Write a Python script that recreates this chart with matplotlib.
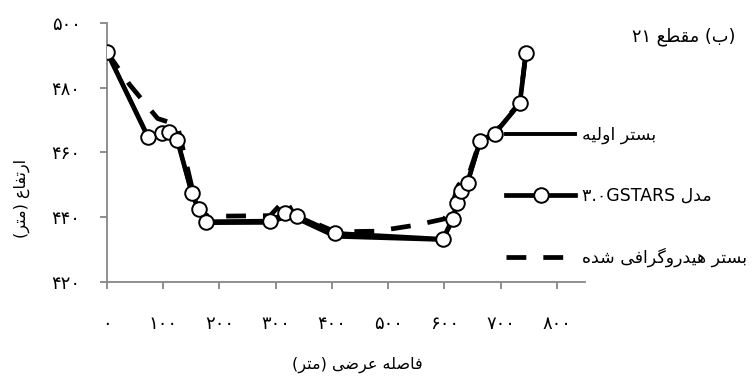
import matplotlib as mpl
mpl.use('agg')
import matplotlib.pyplot as plt

# distance (m) and bed elevation (m)
gstars_x = [0, 73, 97, 111, 125, 151, 163, 176, 290, 317, 338, 406,
            597, 615, 622, 630, 641, 663, 689, 734, 745]
gstars_y = [491, 464.7, 466, 466.4, 463.8, 447.4, 442.7, 438.6, 438.8, 441.4, 440.3, 435,
            433.2, 439.6, 444.3, 448, 450.7, 463.5, 465.7, 475.2, 490.8]

initial_x = [0, 73, 97, 111, 125, 151, 163, 176, 290, 317, 338, 406,
             597, 615, 622, 630, 641, 663, 689, 734, 745]
initial_y = [491, 465, 465.5, 466, 464, 447, 442, 438.2, 438.3, 440, 439.5, 434,
             433, 439, 444, 447.5, 450.5, 463, 466, 475, 491]

hydro_x = [0, 40, 90, 125, 150, 165, 180, 290, 317, 332, 406, 480,
           550, 600, 612, 625, 641, 663, 689, 734, 745]
hydro_y = [491, 481, 470.5, 468.5, 450, 442, 440.3, 440.5, 445.5, 441, 435.5, 435.7,
           437.6, 439.5, 443, 450, 452, 463.5, 466, 475.5, 491]

x_ticks = [0, 100, 200, 300, 400, 500, 600, 700, 800]
y_ticks = [420, 440, 460, 480, 500]

# --- minimal persian shaping (matplotlib draws glyphs left to right, no joining)
FORMS = {
    'ا': (0xFE8D, 0xFE8E, None, None),
    'ب': (0xFE8F, 0xFE90, 0xFE91, 0xFE92),
    'ت': (0xFE95, 0xFE96, 0xFE97, 0xFE98),
    'د': (0xFEA9, 0xFEAA, None, None),
    'ر': (0xFEAD, 0xFEAE, None, None),
    'س': (0xFEB1, 0xFEB2, 0xFEB3, 0xFEB4),
    'ش': (0xFEB5, 0xFEB6, 0xFEB7, 0xFEB8),
    'ص': (0xFEB9, 0xFEBA, 0xFEBB, 0xFEBC),
    'ض': (0xFEBD, 0xFEBE, 0xFEBF, 0xFEC0),
    'ط': (0xFEC1, 0xFEC2, 0xFEC3, 0xFEC4),
    'ع': (0xFEC9, 0xFECA, 0xFECB, 0xFECC),
    'ف': (0xFED1, 0xFED2, 0xFED3, 0xFED4),
    'ق': (0xFED5, 0xFED6, 0xFED7, 0xFED8),
    'ل': (0xFEDD, 0xFEDE, 0xFEDF, 0xFEE0),
    'م': (0xFEE1, 0xFEE2, 0xFEE3, 0xFEE4),
    'ه': (0xFEE9, 0xFEEA, 0xFEEB, 0xFEEC),
    'و': (0xFEED, 0xFEEE, None, None),
    'ی': (0xFEEF, 0xFEF0, 0xFEF3, 0xFEF4),
    'گ': (0xFB92, 0xFB93, 0xFB94, 0xFB95),
}


def shape_word(w):
    out = []
    for i, c in enumerate(w):
        if c not in FORMS:
            out.append(c)
            continue
        f = FORMS[c]
        prev = w[i - 1] if i > 0 else ''
        nxt = w[i + 1] if i + 1 < len(w) else ''
        jp = prev in FORMS and FORMS[prev][2] is not None
        jn = nxt in FORMS and f[2] is not None
        if jp and jn:
            g = f[3]
        elif jp:
            g = f[1]
        elif jn:
            g = f[2]
        else:
            g = f[0]
        out.append(chr(g))
    s = ''.join(reversed(out))
    return s.translate(str.maketrans('()', ')('))


def fa(text):
    words = []
    for t in text.split(' '):
        if any(c in FORMS for c in t):
            words.append(shape_word(t))
        else:
            words.append(t)
    return ' '.join(reversed(words))


def fa_num(v):
    return str(int(v)).translate(str.maketrans('0123456789', '۰۱۲۳۴۵۶۷۸۹'))


plt.rcParams['font.family'] = ['DejaVu Sans']

fig = plt.figure(figsize=(7.52, 3.85), dpi=100)
ax = fig.add_axes([0.1423, 0.2675, 0.6357, 0.6728])

ax.plot(initial_x, initial_y, color='black', lw=2.8, label=fa('بستر اولیه'), zorder=2)
ax.plot(gstars_x, gstars_y, color='black', lw=3.4, marker='o', markersize=10.5,
        markerfacecolor='white', markeredgecolor='black', markeredgewidth=1.4,
        label='۳.۰GSTARS ' + fa('مدل'), zorder=4)
ax.plot(hydro_x, hydro_y, color='black', lw=3.4, dashes=(4.2, 3.6),
        label=fa('بستر هیدروگرافی شده'), zorder=3)

ax.set_xlim(0, 850)
ax.set_ylim(420, 500)
ax.set_xticks(x_ticks)
ax.set_xticklabels([fa_num(v) for v in x_ticks])
ax.set_yticks(y_ticks)
ax.set_yticklabels([fa_num(v) for v in y_ticks])

for s in ['top', 'right']:
    ax.spines[s].set_visible(False)
for s in ['left', 'bottom']:
    ax.spines[s].set_color('#868686')
    ax.spines[s].set_linewidth(1.3)
ax.tick_params(axis='both', direction='out', length=5, width=1.3, color='#868686',
               labelsize=13)
ax.tick_params(axis='x', pad=19)
ax.tick_params(axis='y', pad=14)

fig.text(0.475, 0.052, fa('فاصله عرضی (متر)'), ha='center', va='center', fontsize=11.5)
fig.text(0.029, 0.485, fa('ارتفاع (متر)'), ha='center', va='center', fontsize=11.5,
         rotation=90)
fig.text(0.84, 0.905, fa('(ب) مقطع ۲۱'), ha='left', va='center', fontsize=12.8)

ax.legend(loc='upper left', bbox_to_anchor=(0.652, 0.713), bbox_transform=fig.transFigure,
          frameon=False, fontsize=12.5, handlelength=4.0, handletextpad=0.4,
          labelspacing=2.46)

fig.savefig('out.png', dpi=100)
